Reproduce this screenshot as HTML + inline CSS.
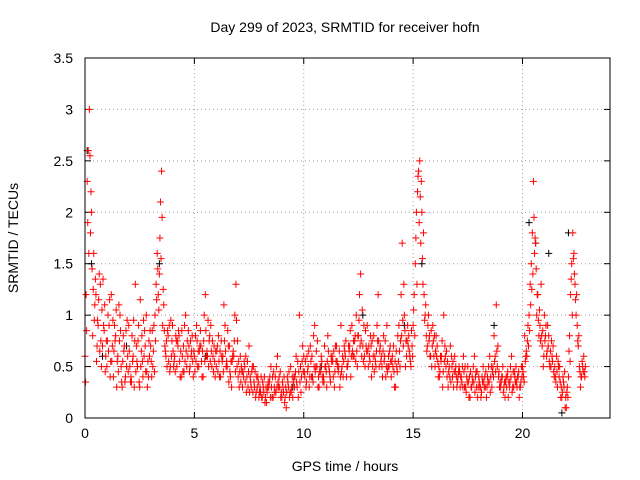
<!DOCTYPE html>
<html><head><meta charset="utf-8"><style>
body{margin:0;background:#fff;}
svg{display:block;font-family:"Liberation Sans",sans-serif;}
</style></head><body>
<svg id="chart" width="640" height="480" viewBox="0 0 640 480" xmlns="http://www.w3.org/2000/svg">
<rect width="640" height="480" fill="#fff"/>
<text x="345" y="32" font-size="14" text-anchor="middle">Day 299 of 2023, SRMTID for receiver hofn</text>
<text x="345" y="471" font-size="14" text-anchor="middle">GPS time / hours</text>
<text transform="translate(18,238) rotate(-90)" font-size="14" text-anchor="middle">SRMTID / TECUs</text>
<g id="grid"></g>
<g id="ticks"></g>
<g id="marks"></g>
<rect x="85" y="58" width="525" height="360" fill="none" stroke="#000" stroke-width="1"/>
</svg>
<script>
const xTicks=[0,5,10,15,20];
const yTicks=[0,0.5,1,1.5,2,2.5,3,3.5];
const yTickLabels=["0","0.5","1","1.5","2","2.5","3","3.5"];
const redA=[0.6,2.3,3.0,2.0,1.6,1.2,0.9,1.3,0.7,1.1,
0.5,0.9,1.2,0.4,0.8,0.6,1.0,0.3,0.7,0.5,
0.9,0.4,0.6,1.3,0.5,0.3,0.8,0.6,1.0,0.4,
0.7,0.5,1.0,1.6,1.4,2.4,1.1,0.6,0.8,0.5,
0.9,0.6,0.5,0.8,0.4,0.7,1.0,0.6,0.5,0.8,
0.6,0.9,0.5,0.7,0.4,1.2,0.6,0.8,0.5,0.7,
0.5,0.8,0.4,0.6,0.9,0.5,0.7,0.3,0.6,1.3,
0.4,0.6,0.3,0.5,0.4,0.7,0.3,0.5,0.2,0.4,
0.3,0.2,0.4,0.15,0.3,0.5,0.2,0.4,0.6,0.3,
0.2,0.4,0.1,0.3,0.5,0.2,0.4,0.3,1.0,0.4,
0.6,0.3,0.5,0.7,0.4,0.9,0.5,0.3,0.6,0.4,
0.5,0.8,0.4,0.6,0.3,0.7,0.5,0.9,0.4,0.6,
0.5,0.7,0.9,0.6,1.0,0.8,1.4,0.7,0.5,0.9,
0.6,0.4,0.8,0.5,1.2,0.7,0.4,0.6,0.9,0.5,
0.4,0.7,0.3,0.8,0.5,1.7,1.0,0.6,0.8,0.5,
0.9,1.5,2.2,2.5,2.0,1.2,0.8,1.0,0.6,0.9,
0.5,0.7,0.4,0.6,1.0,0.5,0.3,0.7,0.4,0.6,
0.3,0.5,0.4,0.6,0.3,0.5,0.2,0.4,0.6,0.3,
0.4,0.2,0.5,0.3,0.4,0.6,0.3,0.8,1.1,0.4,
0.3,0.5,0.2,0.4,0.3,0.6,0.3,0.5,0.4,0.3,
0.5,0.8,0.6,1.0,1.5,2.3,1.7,1.2,0.9,0.7,
1.0,0.6,0.8,0.5,0.7,0.4,0.3,0.5,0.2,0.3,
0.1,0.4,1.2,1.8,1.3,0.9,0.5,0.4,0.6];
const redB=[1.2,2.6,1.8,0.8,1.1,0.7,1.4,0.5,0.9,0.6,
1.0,0.4,0.7,0.9,0.3,1.1,0.5,0.8,0.4,0.6,
0.5,0.8,0.3,0.7,0.9,0.5,0.4,0.7,0.3,0.6,
0.4,0.9,1.3,1.2,2.1,0.9,0.7,0.5,0.9,0.6,
0.5,0.8,0.7,0.4,0.6,0.9,0.5,0.7,0.6,0.4,
0.8,0.5,0.7,0.4,1.0,0.6,0.5,0.9,0.6,0.4,
0.7,0.4,0.6,1.1,0.5,0.7,0.4,0.6,1.0,0.5,
0.3,0.5,0.4,0.6,0.3,0.4,0.5,0.3,0.4,0.2,
0.4,0.3,0.2,0.3,0.4,0.2,0.3,0.5,0.3,0.2,
0.3,0.2,0.4,0.2,0.3,0.4,0.6,0.2,0.5,0.7,
0.4,0.6,0.3,0.4,0.8,0.5,0.3,0.5,0.4,0.7,
0.3,0.5,0.6,0.4,0.7,0.5,0.3,0.5,0.7,0.4,
0.7,0.4,0.6,0.8,0.5,1.2,0.6,0.9,0.7,0.5,
0.8,0.5,0.6,0.9,0.5,0.6,0.8,0.4,0.5,0.7,
0.6,0.3,0.5,0.9,1.2,0.7,0.5,0.9,0.6,0.7,
1.2,2.0,2.4,1.7,1.3,1.0,0.7,0.8,0.5,0.6,
0.8,0.4,0.6,0.3,0.7,0.4,0.5,0.6,0.3,0.5,
0.4,0.3,0.5,0.3,0.4,0.2,0.3,0.5,0.4,0.2,
0.3,0.4,0.3,0.2,0.5,0.4,0.5,0.6,0.5,0.3,
0.4,0.3,0.4,0.2,0.5,0.3,0.4,0.3,0.2,0.5,
0.4,0.6,0.9,1.3,1.8,1.6,1.0,0.8,1.3,0.5,
0.8,0.9,0.5,0.6,0.4,0.6,0.5,0.2,0.4,0.1,
0.3,0.8,1.5,1.6,1.0,0.7,0.3,0.5,0.4];
const redC=[0.35,1.9,2.55,1.45,0.95,0.55,1.15,0.75,1.35,0.45,
0.75,1.15,0.55,0.65,1.05,0.45,0.85,0.55,0.35,0.95,
0.65,0.35,0.95,0.45,0.75,1.15,0.55,0.85,0.45,0.75,
0.55,0.65,0.75,1.45,1.75,1.95,0.85,0.75,0.55,0.95,
0.65,0.45,0.75,0.55,0.85,0.45,0.65,0.85,0.75,0.55,
0.45,0.75,0.65,0.55,0.75,0.85,0.95,0.55,0.75,0.55,
0.65,0.55,0.75,0.45,0.65,0.85,0.45,0.55,0.75,0.95,
0.55,0.35,0.45,0.35,0.55,0.25,0.45,0.35,0.25,0.35,
0.25,0.35,0.15,0.25,0.35,0.3,0.45,0.25,0.35,0.45,
0.35,0.15,0.25,0.45,0.25,0.35,0.45,0.55,0.35,0.55,
0.45,0.35,0.65,0.55,0.35,0.45,0.75,0.45,0.55,0.35,
0.45,0.65,0.35,0.55,0.45,0.55,0.65,0.45,0.55,0.75,
0.55,0.85,0.65,0.75,0.65,0.95,0.75,0.55,0.85,0.65,
0.55,0.75,0.45,0.65,0.75,0.55,0.65,0.75,0.45,0.65,
0.55,0.45,0.65,0.55,0.75,0.95,0.85,0.75,0.65,0.85,
1.05,1.75,2.35,2.15,1.55,0.95,0.65,0.75,0.85,0.75,
0.65,0.55,0.45,0.75,0.55,0.65,0.45,0.35,0.55,0.45,
0.35,0.45,0.35,0.45,0.25,0.35,0.45,0.35,0.25,0.45,
0.35,0.25,0.35,0.45,0.35,0.25,0.45,0.55,0.65,0.45,
0.35,0.25,0.35,0.45,0.35,0.25,0.45,0.35,0.45,0.35,
0.45,0.55,0.75,0.85,1.25,1.95,1.45,0.95,0.75,0.85,
0.75,0.65,0.55,0.75,0.45,0.35,0.55,0.35,0.25,0.45,
0.25,0.65,1.35,1.55,1.15,0.75,0.45,0.55,0.45];
const redD=[0.85,1.6,2.2,1.25,1.35,0.95,0.65,1.05,0.85,0.75,
0.65,0.55,0.95,0.75,0.55,0.75,0.35,0.65,0.85,0.45,
0.35,0.55,0.75,0.55,0.35,0.65,0.95,0.45,0.55,0.85,
0.85,0.45,1.15,1.05,1.55,1.25,0.65,0.85,0.45,0.75,
0.55,0.75,0.85,0.65,0.45,0.55,0.75,0.45,0.65,0.65,
0.55,0.65,0.85,0.65,0.55,0.65,0.75,0.65,0.45,0.65,
0.45,0.65,0.55,0.75,0.55,0.35,0.55,0.65,0.45,0.75,
0.45,0.45,0.55,0.25,0.45,0.35,0.25,0.45,0.3,0.25,
0.2,0.25,0.3,0.35,0.2,0.4,0.25,0.3,0.4,0.25,
0.25,0.3,0.35,0.25,0.4,0.3,0.35,0.45,0.25,0.45,
0.55,0.45,0.4,0.6,0.5,0.65,0.4,0.45,0.35,0.5,
0.55,0.45,0.55,0.65,0.55,0.45,0.4,0.6,0.65,0.5,
0.65,0.6,0.75,0.55,0.8,0.7,1.05,0.6,0.65,0.7,
0.7,0.6,0.55,0.75,0.65,0.5,0.55,0.5,0.6,0.55,
0.5,0.55,0.45,0.65,0.8,1.3,0.75,0.7,0.55,0.6,
0.8,1.3,1.9,2.3,1.8,1.1,0.9,0.6,0.7,0.8,
0.6,0.5,0.55,0.45,0.6,0.55,0.4,0.5,0.45,0.4,
0.45,0.4,0.3,0.5,0.35,0.4,0.3,0.35,0.45,0.3,
0.3,0.35,0.4,0.3,0.35,0.5,0.4,0.45,0.7,0.35,
0.4,0.35,0.3,0.35,0.4,0.45,0.35,0.4,0.3,0.4,
0.35,0.65,0.7,1.1,1.4,1.75,1.2,1.05,0.8,0.6,
0.9,0.7,0.65,0.55,0.5,0.45,0.4,0.3,0.35,0.2,
0.2,0.55,1.0,1.4,1.2,0.8,0.4,0.45,0.5];
const blackTimes=[0.1,0.3,0.8,1.9,3.4,5.5,9.5,10.8,12.7,14.6,15.4,18.7,20.3,20.6,21.2,21.8,22.1];
const blackValues=[2.6,1.5,0.6,0.7,1.5,0.6,0.3,0.5,1.0,0.9,1.5,0.9,1.9,1.7,1.6,0.05,1.8];

const X0=85,X1=610,Y0=418,Y1=58;
const xs=v=>X0+(v/24)*(X1-X0);
const ys=v=>Y0-(v/3.5)*(Y0-Y1);
const NS="http://www.w3.org/2000/svg";
const grid=document.getElementById('grid'),ticks=document.getElementById('ticks'),marks=document.getElementById('marks');
function mk(tag,attrs,parent){const e=document.createElementNS(NS,tag);for(const k in attrs)e.setAttribute(k,attrs[k]);parent.appendChild(e);return e;}
xTicks.forEach(t=>{
  const x=xs(t);
  if(t>0){const g=mk('line',{x1:x,x2:x,y1:Y0,y2:Y1,stroke:'#a0a0a0','stroke-dasharray':'1,3'},grid);
  
  }
  mk('line',{x1:x,x2:x,y1:Y0,y2:Y0-6,stroke:'#000'},ticks);
  mk('line',{x1:x,x2:x,y1:Y1,y2:Y1+6,stroke:'#000'},ticks);
  const l=mk('text',{x:x,y:Y0+20,'font-size':'14','text-anchor':'middle'},ticks);
  l.textContent=String(t);
  
  
});
yTicks.forEach((t,i)=>{
  const y=ys(t);
  if(t>0&&t<3.5){const g=mk('line',{x1:X0,x2:X1,y1:y,y2:y,stroke:'#a0a0a0','stroke-dasharray':'1,3'},grid);
  
  }
  mk('line',{x1:X0,x2:X0+6,y1:y,y2:y,stroke:'#000'},ticks);
  mk('line',{x1:X1,x2:X1-6,y1:y,y2:y,stroke:'#000'},ticks);
  const l=mk('text',{x:X0-12,y:y+5,'font-size':'14','text-anchor':'end'},ticks);
  l.textContent=yTickLabels[i];
  
  
});
function plus(x,y,color,name){
  const p=mk('path',{d:`M${x-3.5},${y}h7M${x},${y-3.5}v7`,stroke:color,'stroke-width':'1',fill:'none'},marks);
  
  
}
blackTimes.forEach((t,i)=>plus(xs(t),ys(blackValues[i]),'#000','black-point'));
redA.forEach((v,i)=>plus(xs(i*0.1),ys(v),'#ff0000','red-point'));
redC.forEach((v,i)=>plus(xs(i*0.1+0.025),ys(v),'#ff0000','red-point'));
redB.forEach((v,i)=>plus(xs(i*0.1+0.05),ys(v),'#ff0000','red-point'));
redD.forEach((v,i)=>plus(xs(i*0.1+0.075),ys(v),'#ff0000','red-point'));
</script>
</body></html>
